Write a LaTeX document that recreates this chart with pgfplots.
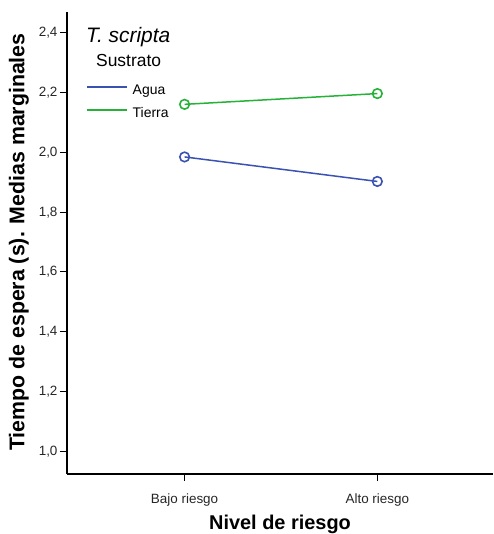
\documentclass[border=0pt]{standalone}
\usepackage{pgfplots}
\pgfplotsset{compat=1.18}
\usepackage{fontspec}
\setmainfont{Liberation Sans}
\definecolor{cblue}{RGB}{58,82,178}
\definecolor{cgreen}{RGB}{38,178,56}
\begin{document}
\begin{tikzpicture}
\path[use as bounding box] (-67bp,-60bp) rectangle (427bp,474bp);
\begin{axis}[
  at={(0,0)}, anchor=origin,
  scale only axis, width=426bp, height=462bp,
  xmin=0.39, xmax=2.6, ymin=0.924, ymax=2.47,
  axis lines=left, axis line style={-, line width=1.6bp, black},
  xtick={1,2}, xticklabels={Bajo riesgo, Alto riesgo},
  ytick={1.0,1.2,1.4,1.6,1.8,2.0,2.2,2.4},
  tick align=outside, major tick length=7bp,
  tick style={black, line width=1bp},
  /pgf/number format/.cd, use comma, fixed, fixed zerofill, precision=1, assume math mode=true,
  /pgfplots/.cd,
  ticklabel style={font=\fontsize{13.5}{16}\selectfont, text=black!85},
  xticklabel style={yshift=-9bp},
  yticklabel style={xshift=1bp},
  xlabel={Nivel de riesgo}, ylabel={Tiempo de espera (s). Medias marginales},
  xlabel style={font=\bfseries\fontsize{20}{24}\selectfont, at={(axis description cs:0.5,-0.121)}, anchor=base},
  ylabel style={font=\bfseries\fontsize{21.4}{25}\selectfont, at={(axis description cs:-0.113,0.502)}, anchor=center},
  clip=false,
  legend style={draw=none, fill=none, inner sep=0pt, at={(axis description cs:0.0446,0.804)}, anchor=west,
    font=\fontsize{14}{16}\selectfont, row sep=10bp,
    nodes={inner sep=0pt, text height=10bp, text depth=3bp},
    /tikz/every odd column/.append style={column sep=5bp}},
  legend cell align=left,
  legend image code/.code={\draw[#1, line width=1.5bp] (0bp,4bp) -- (40bp,4bp);},
]
\addplot[cblue, line width=1.5bp, mark=o, mark size=4.8bp, mark options={line width=1.6bp}] coordinates {(1,1.985) (2,1.903)};
\addplot[cgreen, line width=1.5bp, mark=o, mark size=4.8bp, mark options={line width=1.6bp}] coordinates {(1,2.161) (2,2.197)};
\legend{Agua, Tierra}
\node[anchor=base west, inner sep=0pt, font=\itshape\fontsize{21}{24}\selectfont] at (axis description cs:0.0446,0.935) {T. scripta};
\node[anchor=base west, inner sep=0pt, font=\fontsize{17.5}{20}\selectfont] at (axis description cs:0.068,0.881) {Sustrato};
\end{axis}
\end{tikzpicture}
\end{document}
